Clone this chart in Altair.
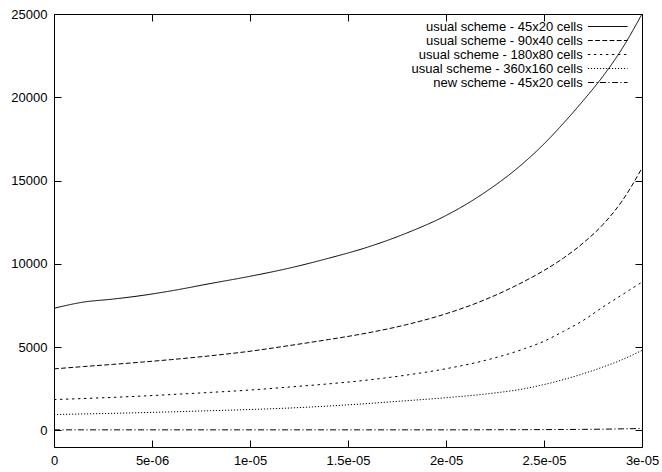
import altair as alt
import pandas as pd

# time axis in microseconds (tick labels are printed in seconds)
time_us = [0, 1.5, 3, 4.5, 6, 8, 10, 12, 14, 16, 18, 20, 22, 24, 25, 26, 27, 28, 29, 30]

usual_45x20 = [7330, 7700, 7880, 8100, 8380, 8820, 9250, 9740, 10330, 11000,
               11850, 12900, 14300, 16100, 17200, 18450, 19800, 21250, 22950, 25000]
usual_90x40 = [3690, 3830, 3960, 4100, 4250, 4480, 4750, 5090, 5450, 5850,
               6350, 7000, 7850, 8950, 9600, 10350, 11250, 12350, 13800, 15750]
usual_180x80 = [1850, 1910, 1980, 2060, 2150, 2280, 2420, 2600, 2790, 3020,
                3320, 3700, 4200, 4900, 5350, 5950, 6600, 7400, 8150, 8900]
usual_360x160 = [950, 985, 1020, 1065, 1110, 1180, 1250, 1340, 1460, 1610,
                 1780, 1960, 2180, 2500, 2750, 3050, 3400, 3800, 4250, 4800]
new_45x20 = [30, 30, 30, 30, 30, 30, 30, 30, 30, 30,
             30, 30, 35, 40, 45, 50, 60, 70, 90, 110]

series_names = [
    "usual scheme - 45x20 cells",
    "usual scheme - 90x40 cells",
    "usual scheme - 180x80 cells",
    "usual scheme - 360x160 cells",
    "new scheme - 45x20 cells",
]
series_values = [usual_45x20, usual_90x40, usual_180x80, usual_360x160, new_45x20]
series_dash = [[1, 0], [4.8, 2.4], [2.4, 3.6], [1.2, 1.8], [6, 2.4, 1.2, 2.4]]

x_ticks = [0, 5, 10, 15, 20, 25, 30]
y_ticks = [0, 5000, 10000, 15000, 20000, 25000]

rows = []
for name, vals in zip(series_names, series_values):
    for t, v in zip(time_us, vals):
        rows.append({"t": t, "v": v, "series": name})
df = pd.DataFrame(rows)

FONT = "Liberation Sans"
x_label = "datum.value == 0 ? '0' : replace(format(datum.value * 1e-6, '~e'), 'e-', 'e-0')"

x_scale = alt.Scale(domain=[0, 30], nice=False, zero=False)
y_scale = alt.Scale(domain=[-1000, 25000], nice=False, zero=False)

common_axis = dict(offset=-7, tickSize=7, domain=False, grid=False,
                   tickColor="black", tickWidth=1, labelColor="black",
                   labelFont=FONT, labelFontSize=13)

# key sample: a wide horizontal stroke drawn from a small symbol size,
# so the key rows stay tightly packed
key_symbol = "M-3.6,0H3.6"

lines = alt.Chart(df).mark_line(color="black", strokeWidth=1, interpolate="monotone").encode(
    x=alt.X("t:Q", scale=x_scale, title=None,
            axis=alt.Axis(orient="bottom", values=x_ticks, labelExpr=x_label,
                          labelPadding=7, labelFlush=False, **common_axis)),
    y=alt.Y("v:Q", scale=y_scale, title=None,
            axis=alt.Axis(orient="left", values=y_ticks, labelPadding=7, format="d", **common_axis)),
    strokeDash=alt.StrokeDash(
        "series:N", title=None,
        scale=alt.Scale(domain=series_names, range=series_dash),
        legend=alt.Legend(orient="none", legendX=547.25, legendY=6,
                          labelAlign="right", labelOffset={"expr": "-31.5"},
                          symbolType=key_symbol, symbolSize=121,
                          symbolStrokeWidth=1, symbolStrokeColor="black",
                          labelFont=FONT, labelFontSize=13, labelColor="black",
                          labelLimit=400, padding=0, rowPadding={"expr": "-2"}),
    ),
    detail="series:N",
)

# mirrored ticks on the top and right edges of the frame
mirror = alt.Chart(df).mark_point(opacity=0).encode(
    x=alt.X("t:Q", scale=x_scale, title=None,
            axis=alt.Axis(orient="top", values=x_ticks, labels=False, **common_axis)),
    y=alt.Y("v:Q", scale=y_scale, title=None,
            axis=alt.Axis(orient="right", values=y_ticks, labels=False, **common_axis)),
)

chart = alt.layer(lines, mirror).resolve_scale(x="independent", y="independent").properties(
    width=588, height=433,
    autosize=alt.AutoSizeParams(type="none"),
    padding={"left": 54, "top": 14, "right": 20, "bottom": 25},
    background="white",
).configure_view(stroke="black", strokeWidth=1)

chart.save("out.html", embed_options={"renderer": "svg", "actions": False})
